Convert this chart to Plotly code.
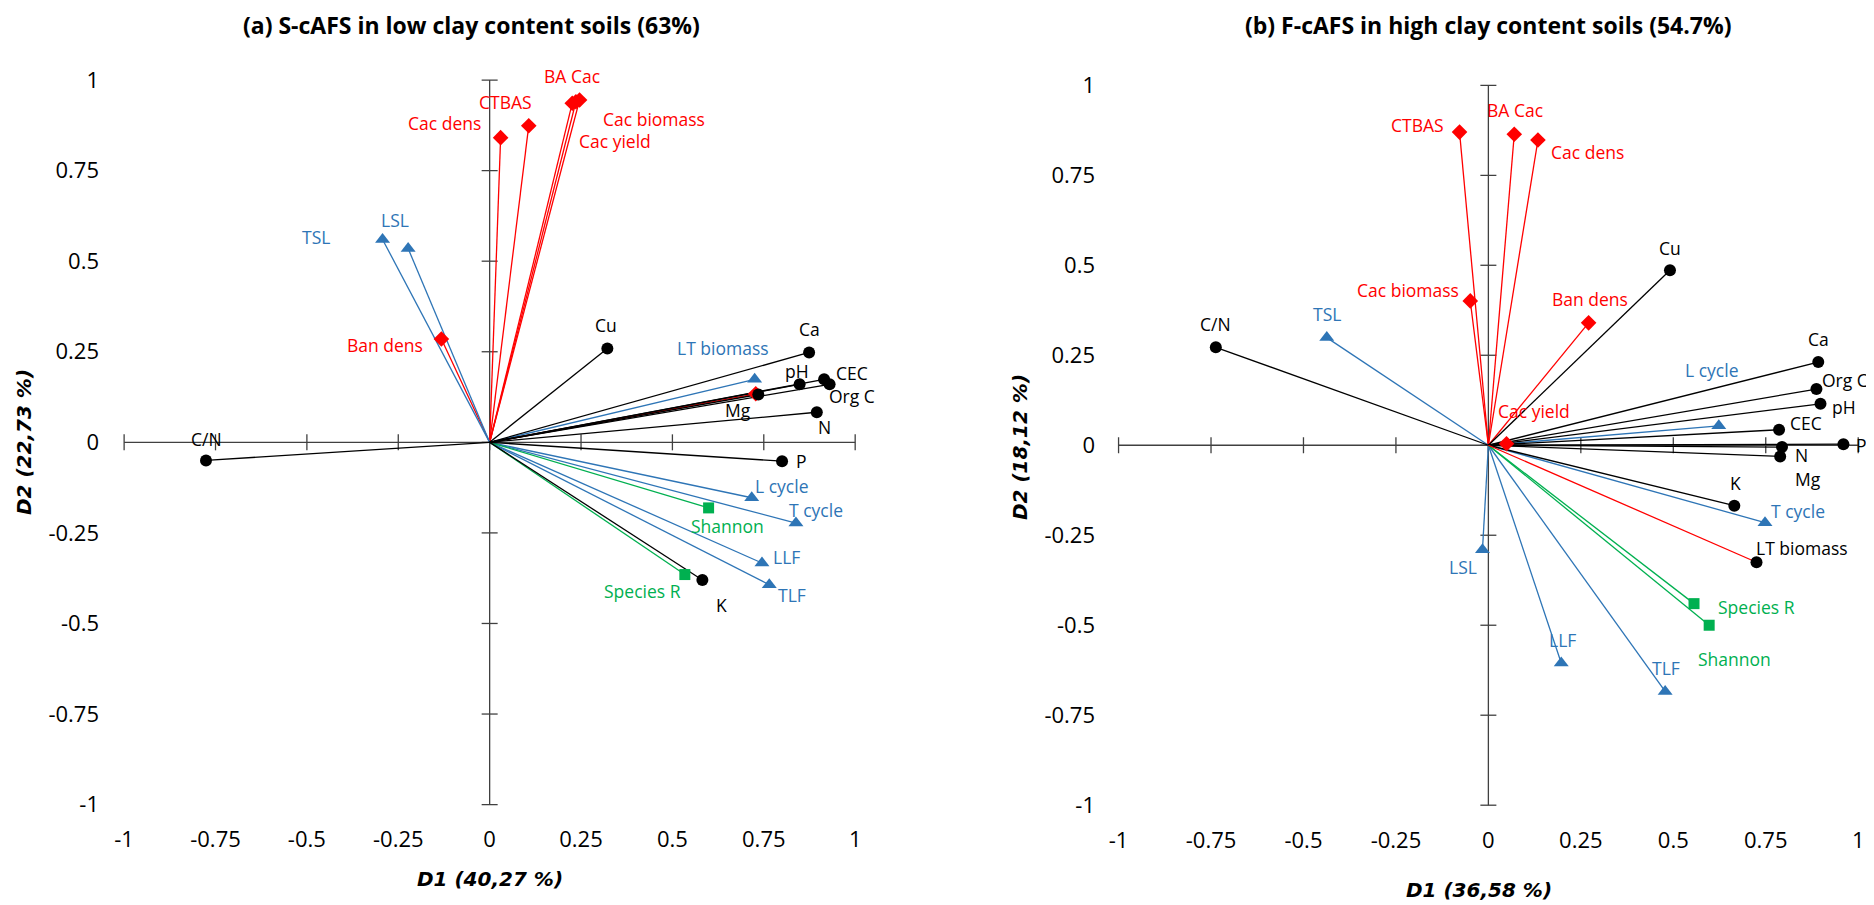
import plotly.graph_objects as go

W, H = 1874, 905          # browser window
OFF = 8                   # default page (body) margin that the html page adds
FW, FH = W - OFF, H - OFF # figure size so that the figure exactly fills the window

# ---------------- Panel (a): S-cAFS, low clay ----------------
a_soil_labels = ["Cu", "Ca", "CEC", "Org C", "pH", "Mg", "N", "C/N", "P", "K"]
a_soil_x = [0.322, 0.874, 0.915, 0.930, 0.848, 0.735, 0.895, -0.776, 0.800, 0.582]
a_soil_y = [0.259, 0.248, 0.174, 0.160, 0.160, 0.132, 0.083, -0.050, -0.052, -0.380]

a_litter_labels = ["LT biomass", "L cycle", "T cycle", "LLF", "TLF", "TSL", "LSL"]
a_litter_x = [0.725, 0.717, 0.838, 0.745, 0.765, -0.293, -0.223]
a_litter_y = [0.174, -0.153, -0.223, -0.333, -0.393, 0.560, 0.535]

a_div_labels = ["Shannon", "Species R"]
a_div_x = [0.599, 0.534]
a_div_y = [-0.181, -0.365]

a_crop_labels = ["Cac dens", "CTBAS", "Cac yield", "Cac biomass", "BA Cac", "Ban dens", ""]
a_crop_x = [0.030, 0.107, 0.226, 0.236, 0.246, -0.132, 0.728]
a_crop_y = [0.841, 0.874, 0.936, 0.940, 0.945, 0.285, 0.134]

# ---------------- Panel (b): F-cAFS, high clay ----------------
b_soil_labels = ["Cu", "C/N", "Ca", "Org C", "pH", "CEC", "P", "N", "Mg", "K", "LT biomass"]
b_soil_x = [0.491, -0.737, 0.892, 0.887, 0.898, 0.786, 0.960, 0.794, 0.789, 0.665, 0.725]
b_soil_y = [0.486, 0.272, 0.231, 0.156, 0.115, 0.043, 0.003, -0.005, -0.031, -0.168, -0.325]

b_litter_labels = ["TSL", "L cycle", "T cycle", "LSL", "LLF", "TLF"]
b_litter_x = [-0.437, 0.623, 0.748, -0.016, 0.197, 0.478]
b_litter_y = [0.299, 0.054, -0.215, -0.290, -0.605, -0.684]

b_div_labels = ["Species R", "Shannon"]
b_div_x = [0.556, 0.597]
b_div_y = [-0.440, -0.500]

b_crop_labels = ["CTBAS", "BA Cac", "Cac dens", "Cac biomass", "Ban dens", "Cac yield"]
b_crop_x = [-0.078, 0.070, 0.134, -0.049, 0.271, 0.049]
b_crop_y = [0.870, 0.864, 0.848, 0.401, 0.340, 0.004]

tick_vals = [-1, -0.75, -0.5, -0.25, 0, 0.25, 0.5, 0.75, 1]
tick_text = ["-1", "-0.75", "-0.5", "-0.25", "0", "0.25", "0.5", "0.75", "1"]

titles = ["(a) S-cAFS in low clay content soils (63%)",
          "(b) F-cAFS in high clay content soils (54.7%)"]
x_titles = ["D1 (40,27 %)", "D1 (36,58 %)"]
y_titles = ["D2 (22,73 %)", "D2 (18,12 %)"]

# ---------------- styling ----------------
BLACK = "#000000"
BLUE = "#2E75B6"
GREEN = "#00B050"
RED = "#FF0000"
AXIS = "#404040"
FONT = "Open Sans"
TITLE_FONT = "DejaVu Sans"

# label offsets in pixels (dx right, dy down)
a_offsets = {
    "Cu": (-1, -23), "Ca": (0, -23), "CEC": (28, -6), "Org C": (22, 12), "pH": (-3, -13),
    "Mg": (-20, 15), "N": (8, 15), "C/N": (0, -21), "P": (19, 0), "K": (19, 25),
    "Shannon": (19, 18), "Species R": (-42, 16),
    "L cycle": (30, -12), "T cycle": (20, -13), "LLF": (25, -6), "TLF": (23, 10),
    "LT biomass": (-32, -31), "TSL": (-67, -2), "LSL": (-13, -28),
    "Ban dens": (-56, 6), "Cac dens": (-56, -15), "CTBAS": (-23, -24),
    "BA Cac": (-8, -24), "Cac biomass": (78, 17), "Cac yield": (43, 38),
}
b_offsets = {
    "CTBAS": (-42, -7), "BA Cac": (1, -24), "Cac dens": (50, 12), "Cac biomass": (-62, -11),
    "Ban dens": (1, -24), "Cu": (0, -22), "C/N": (0, -23), "TSL": (0, -24), "Ca": (0, -23),
    "Org C": (29, -9), "pH": (24, 3), "CEC": (27, -7), "L cycle": (-7, -56),
    "Cac yield": (27, -33), "P": (18, 1), "N": (19, 8), "Mg": (28, 23), "K": (1, -23),
    "T cycle": (33, -12), "LT biomass": (45, -14), "LSL": (-19, 17), "Species R": (62, 3),
    "Shannon": (25, 34), "LLF": (1, -23), "TLF": (1, -23),
}
b_line_override = {"LT biomass": RED}

# panel geometry in window pixels
panels = [
    dict(xref="x", yref="y", xdom=(100, 879.3), ydom=(58.3, 824),
         xr=(-1.066, 1.066), yr=(-1.0535, 1.06),
         title_pos=(471.5, 25), xt_pos=(489.8, 879), yt_pos=(24, 442)),
    dict(xref="x2", yref="y2", xdom=(1096, 1873), ydom=(63.7, 825),
         xr=(-1.061, 1.040), yr=(-1.055, 1.06),
         title_pos=(1488, 25), xt_pos=(1479, 890), yt_pos=(1020, 447)),
]


def px_x(px):
    return (px - OFF) / FW


def px_y(py):
    return 1 - (py - OFF) / FH


fig = go.Figure()
annotations = []
shapes = []


def add_panel(idx, groups, offsets, line_override):
    p = panels[idx]
    xa, ya = p["xref"], p["yref"]
    for labels, xs, ys, color, sym, size, lab_color in groups:
        for lab, x, y in zip(labels, xs, ys):
            lc = line_override.get(lab, color)
            fig.add_trace(go.Scatter(x=[0, x], y=[0, y], mode="lines",
                                     line=dict(color=lc, width=1.3),
                                     xaxis=xa, yaxis=ya, showlegend=False,
                                     hoverinfo="skip"))
    for labels, xs, ys, color, sym, size, lab_color in groups:
        fig.add_trace(go.Scatter(x=xs, y=ys, mode="markers",
                                 marker=dict(color=color, symbol=sym, size=size,
                                             line=dict(width=0)),
                                 xaxis=xa, yaxis=ya, showlegend=False, cliponaxis=False))
        for lab, x, y in zip(labels, xs, ys):
            if not lab:
                continue
            dx, dy = offsets.get(lab, (0, -20))
            annotations.append(dict(x=x, y=y, xref=xa, yref=ya, text=lab, showarrow=False,
                                    xshift=dx, yshift=-dy, xanchor="center", yanchor="middle",
                                    font=dict(family=FONT, size=17.5, color=lab_color)))
    shapes.append(dict(type="line", xref=xa, yref=ya, x0=-1, x1=1, y0=0, y1=0,
                       line=dict(color=AXIS, width=1.3), layer="below"))
    shapes.append(dict(type="line", xref=xa, yref=ya, x0=0, x1=0, y0=-1, y1=1,
                       line=dict(color=AXIS, width=1.3), layer="below"))
    for t in tick_vals:
        shapes.append(dict(type="line", xref=xa, yref=ya, x0=t, x1=t,
                           ysizemode="pixel", yanchor=0, y0=-8, y1=8,
                           line=dict(color=AXIS, width=1.3), layer="below"))
        shapes.append(dict(type="line", xref=xa, yref=ya, y0=t, y1=t,
                           xsizemode="pixel", xanchor=0, x0=-8, x1=8,
                           line=dict(color=AXIS, width=1.3), layer="below"))
    tx, ty = p["title_pos"]
    annotations.append(dict(x=px_x(tx), y=px_y(ty), xref="paper", yref="paper",
                            text="<b>" + titles[idx] + "</b>", showarrow=False,
                            xanchor="center", yanchor="middle",
                            font=dict(family=FONT, size=23, color="#000000")))
    tx, ty = p["xt_pos"]
    annotations.append(dict(x=px_x(tx), y=px_y(ty), xref="paper", yref="paper",
                            text="<b><i>" + x_titles[idx] + "</i></b>", showarrow=False,
                            xanchor="center", yanchor="middle",
                            font=dict(family=TITLE_FONT, size=20, color="#000000")))
    tx, ty = p["yt_pos"]
    annotations.append(dict(x=px_x(tx), y=px_y(ty), xref="paper", yref="paper",
                            text="<b><i>" + y_titles[idx] + "</i></b>", showarrow=False,
                            textangle=-90, xanchor="center", yanchor="middle",
                            font=dict(family=TITLE_FONT, size=20, color="#000000")))


add_panel(0, [
    (a_crop_labels, a_crop_x, a_crop_y, RED, "diamond", 12, RED),
    (a_litter_labels, a_litter_x, a_litter_y, BLUE, "triangle-up", 13, BLUE),
    (a_div_labels, a_div_x, a_div_y, GREEN, "square", 11, GREEN),
    (a_soil_labels, a_soil_x, a_soil_y, BLACK, "circle", 12, BLACK),
], a_offsets, {})

add_panel(1, [
    (b_crop_labels, b_crop_x, b_crop_y, RED, "diamond", 12, RED),
    (b_litter_labels, b_litter_x, b_litter_y, BLUE, "triangle-up", 13, BLUE),
    (b_div_labels, b_div_x, b_div_y, GREEN, "square", 11, GREEN),
    (b_soil_labels, b_soil_x, b_soil_y, BLACK, "circle", 12, BLACK),
], b_offsets, b_line_override)


def axis(p, which):
    if which == "x":
        dom = (px_x(p["xdom"][0]), px_x(p["xdom"][1]))
        rng = p["xr"]
    else:
        dom = (px_y(p["ydom"][1]), px_y(p["ydom"][0]))
        rng = p["yr"]
    return dict(domain=list(dom), range=list(rng), tickmode="array",
                tickvals=tick_vals, ticktext=tick_text, showgrid=False, zeroline=False,
                showline=False, ticks="", fixedrange=True,
                tickfont=dict(family=FONT, size=22, color="#000000"))


fig.update_layout(
    width=FW, height=FH, margin=dict(l=0, r=0, t=0, b=0),
    paper_bgcolor="white", plot_bgcolor="white",
    xaxis=dict(axis(panels[0], "x"), anchor="y"),
    yaxis=dict(axis(panels[0], "y"), anchor="x"),
    xaxis2=dict(axis(panels[1], "x"), anchor="y2"),
    yaxis2=dict(axis(panels[1], "y"), anchor="x2"),
    annotations=annotations, shapes=shapes, showlegend=False,
)

fig.write_html("out.html")
